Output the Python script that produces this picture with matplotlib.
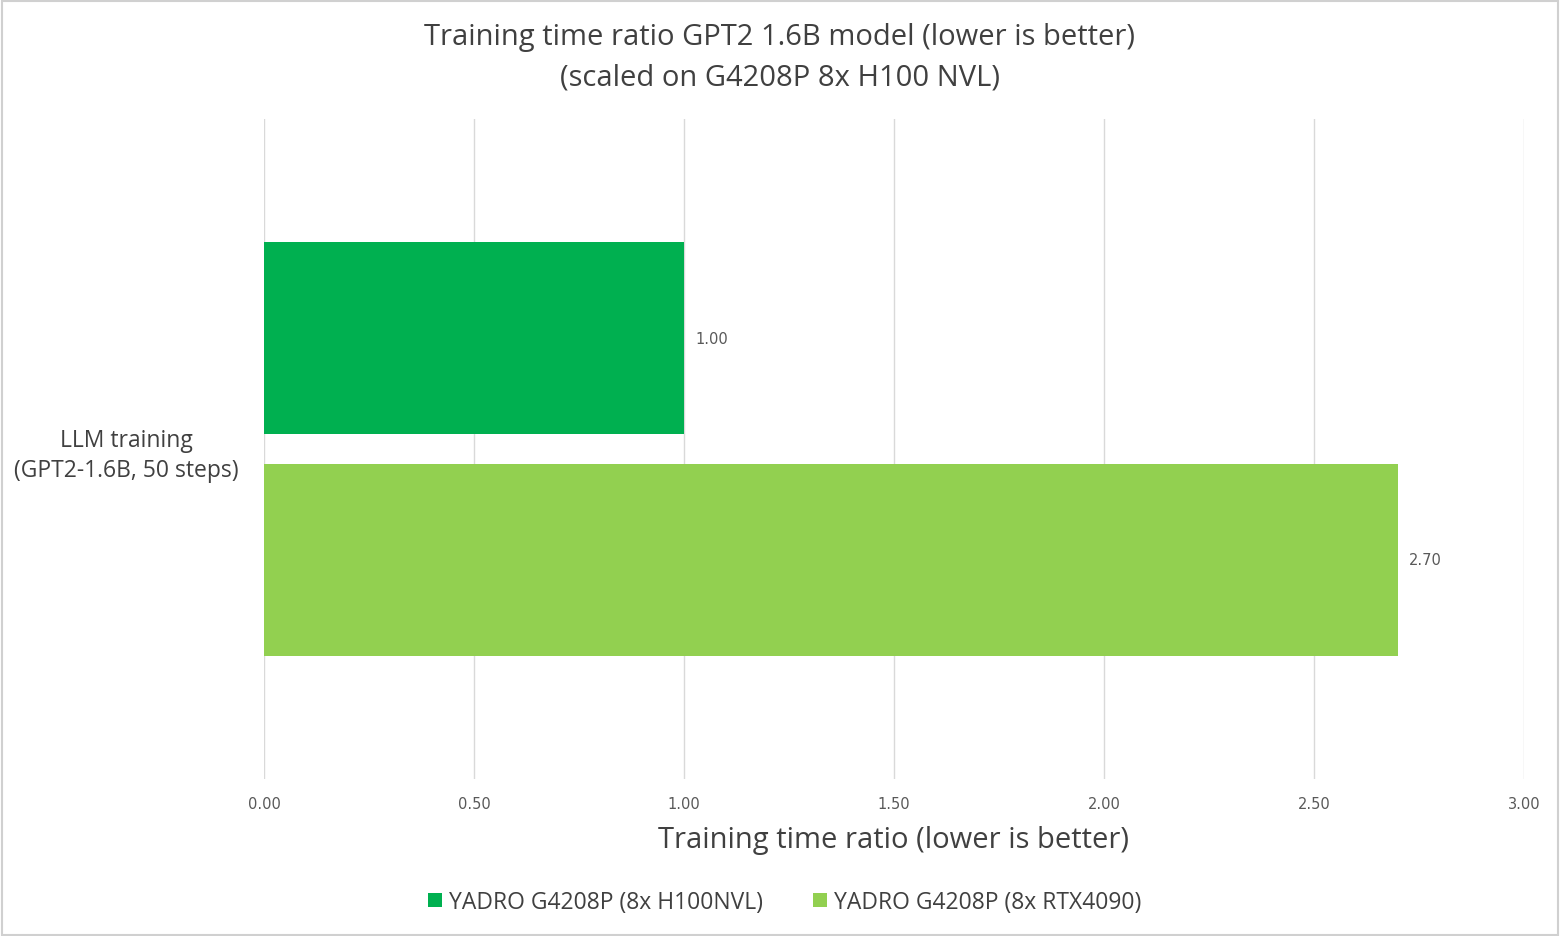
import matplotlib
matplotlib.use("Agg")
import matplotlib.pyplot as plt
from matplotlib.patches import Rectangle, Patch

# data
category = "LLM training\n(GPT2-1.6B, 50 steps)"
series_names = ["YADRO G4208P (8x H100NVL)", "YADRO G4208P (8x RTX4090)"]
ratios = [1.00, 2.70]
colors = ["#00B050", "#92D050"]
x_ticks = [0.0, 0.5, 1.0, 1.5, 2.0, 2.5, 3.0]

plt.rcParams['font.family'] = ['Open Sans', 'DejaVu Sans']

fig = plt.figure(figsize=(15.6, 9.37), dpi=100)
fig.patch.set_facecolor("white")
fig.patches.append(Rectangle((0.001, 0.001), 0.998, 0.997, transform=fig.transFigure,
                             fill=False, edgecolor="#D0D0D0", linewidth=1.5))

ax = fig.add_axes([0.1692, 0.1676, 0.8077, 0.7043])

offsets = [0.168, -0.168]
bar_h = 0.291
for name, val, col, off in zip(series_names, ratios, colors, offsets):
    ax.barh(off, val, height=bar_h, color=col, label=name, zorder=3)
    ax.text(val + 0.027, off, f"{val:.2f}", va="center", ha="left",
            fontsize=10.5, color="#595959", family="DejaVu Sans")

ax.set_xlim(0, 3.0)
ax.set_ylim(-0.5, 0.5)
ax.set_xticks(x_ticks)
ax.set_xticklabels([f"{t:.2f}" for t in x_ticks], fontsize=10.5, color="#595959",
                   family="DejaVu Sans")
ax.tick_params(axis="x", length=0, pad=12)
ax.set_yticks([0])
ax.set_yticklabels([category], fontsize=16.5, color="#404040", ha="center",
                   linespacing=1.35)
ax.tick_params(axis="y", length=0, pad=99)
ax.grid(axis="x", color="#D9D9D9", linewidth=1, zorder=0)
for s in ax.spines.values():
    s.set_visible(False)

ax.set_xlabel("Training time ratio (lower is better)", fontsize=21, color="#404040",
              labelpad=10)

fig.text(0.5, 0.960, "Training time ratio GPT2 1.6B model (lower is better)",
         ha="center", va="center", fontsize=21, color="#404040")
fig.text(0.5, 0.917, "(scaled on G4208P 8x H100 NVL)",
         ha="center", va="center", fontsize=21, color="#404040")

handles = [Patch(facecolor=c, label=n) for n, c in zip(series_names, colors)]
fig.legend(handles=handles, loc="center", bbox_to_anchor=(0.503, 0.036), ncol=2,
           frameon=False, fontsize=16.5, labelcolor="#404040", handlelength=0.6,
           handleheight=0.6, handletextpad=0.3, columnspacing=2.2)

fig.savefig("out.png", dpi=100, facecolor="white")
